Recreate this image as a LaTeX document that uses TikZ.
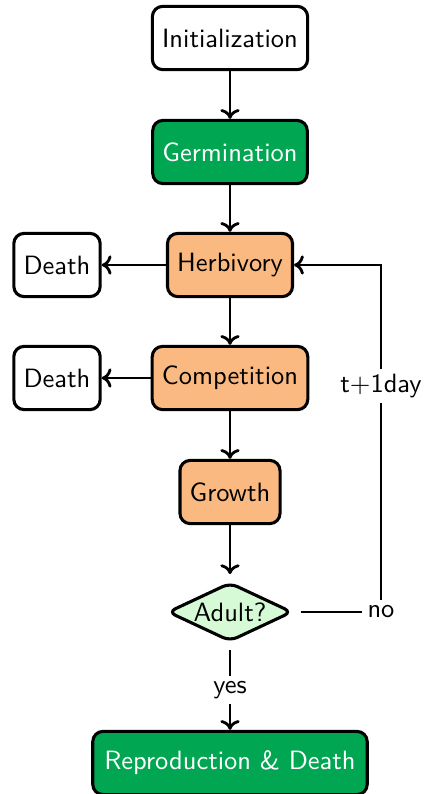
\documentclass[tikz,border=0pt]{standalone}
\usetikzlibrary{shapes.geometric,arrows.meta}
\definecolor{darkgreen}{RGB}{0,166,81}
\definecolor{peach}{RGB}{250,185,128}
\definecolor{palegreen}{RGB}{214,250,214}
\begin{document}
\begin{tikzpicture}[x=0.389pt,y=-0.389pt,font=\sffamily\fontsize{10.3}{12}\selectfont,
  box/.style={draw,line width=1.2pt,rounded corners=4pt,minimum height=24.6pt,inner xsep=3.8pt,align=center},
  greenbox/.style={box,fill=darkgreen,text=white},
  orangebox/.style={box,fill=peach},
  decision/.style={draw,line width=1.2pt,diamond,aspect=2,fill=palegreen,rounded corners=3pt,minimum width=50pt,minimum height=24.5pt,inner sep=0pt,outer sep=2.5pt},
  conn/.style={line width=1.1pt},
  arr/.style={conn,-{To[length=3.8pt,width=7.5pt]}},
  lbl/.style={fill=white,inner sep=2pt}]
\useasboundingbox (0,0) rectangle (425,794);
\node[box] (init) at (230,38) {Initialization};
\node[greenbox] (germ) at (230,152) {Germination};
\node[orangebox] (herb) at (230,265) {Herbivory};
\node[box] (death1) at (57,265) {Death};
\node[orangebox] (comp) at (230,378) {Competition};
\node[box] (death2) at (57,378) {Death};
\node[orangebox] (grow) at (230,492) {Growth};
\node[decision] (adult) at (230,612) {Adult?};
\node[greenbox,inner xsep=4.5pt] (repro) at (230,763) {Reproduction \& Death};
\node[inner sep=2pt] (no) at (381,612) {no};
\draw[arr] (init) -- (germ);
\draw[arr] (germ) -- (herb);
\draw[arr] (herb) -- (death1);
\draw[arr] (herb) -- (comp);
\draw[arr] (comp) -- (death2);
\draw[arr] (comp) -- (grow);
\draw[arr] (grow) -- (adult);
\draw[arr] (adult) -- node[lbl] (yes) {yes} (repro);
\draw[conn] (adult) -- (no);
\draw[arr] (no) |- node[lbl,pos=0.32] (tday) {t+1day} (herb);
\end{tikzpicture}
\end{document}
